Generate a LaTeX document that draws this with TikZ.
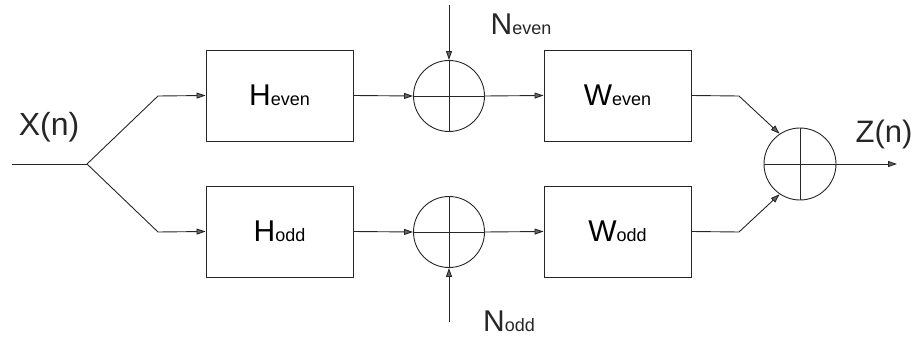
\documentclass[tikz,border=0pt]{standalone}
\usepackage{fontspec}
\setmainfont{Liberation Sans}
\usetikzlibrary{arrows.meta}
\tikzset{
  ln/.style={draw=black!85, line width=0.9pt},
  arr/.style={ln, -{Triangle[length=9pt,width=6pt,fill=black!60]}},
  blk/.style={ln, rectangle, minimum width=147pt, minimum height=91pt, inner sep=0pt},
  sumc/.style={ln, circle, minimum size=71pt, inner sep=0pt},
  lbl/.style={inner sep=0pt, text=black!85}
}
\newcommand{\bigsub}[2]{{\fontsize{30}{30}\selectfont #1}{\fontsize{18}{18}\selectfont #2}}
\begin{document}
\begin{tikzpicture}[x=1pt,y=-1pt]
\useasboundingbox (0,0) rectangle (916,339);
% blocks
\node[blk] (he) at (279.5,95.5) {\bigsub{H}{even}};
\node[blk] (ho) at (279.5,231.5) {\bigsub{H}{odd}};
\node[blk] (we) at (617.5,95.5) {\bigsub{W}{even}};
\node[blk] (wo) at (617.5,231.5) {\bigsub{W}{odd}};
% summers
\node[sumc] (se) at (449,96) {};
\node[sumc] (so) at (449,232) {};
\node[sumc, minimum size=72pt] (sf) at (800,164) {};
\foreach \s in {se,so,sf}{
  \draw[ln] (\s.north) -- (\s.south);
  \draw[ln] (\s.west) -- (\s.east);
}
% labels
\node[lbl] (xl) at (49,127) {\fontsize{32}{32}\selectfont X(n)};
\node[lbl] (zl) at (884,134) {\fontsize{31}{31}\selectfont Z(n)};
\node[lbl] (ne) at (521,24) {\bigsub{N}{even}};
\node[lbl] (no) at (509,321) {\bigsub{N}{odd}};
% coordinates
\coordinate (in) at (12,164);
\coordinate (j) at (87,164);
\coordinate (ku) at (158,96);
\coordinate (kl) at (158,232);
\coordinate (nt) at (449,5);
\coordinate (nb) at (449,322);
\coordinate (wu) at (739,96);
\coordinate (wl) at (739,232);
\coordinate (out) at (897,164);
% connectors
\draw[ln] (in) -- (j);
\draw[arr] (j) -- (ku) -- (he.west);
\draw[arr] (j) -- (kl) -- (ho.west);
\draw[arr] (he.east) -- (se.west);
\draw[arr] (ho.east) -- (so.west);
\draw[arr] (nt) -- (se.north);
\draw[arr] (nb) -- (so.south);
\draw[arr] (se.east) -- (we.west);
\draw[arr] (so.east) -- (wo.west);
\draw[arr] (we.east) -- (wu) -- (sf.124);
\draw[arr] (wo.east) -- (wl) -- (sf.236);
\draw[arr] (sf.east) -- (out);
\end{tikzpicture}
\end{document}
